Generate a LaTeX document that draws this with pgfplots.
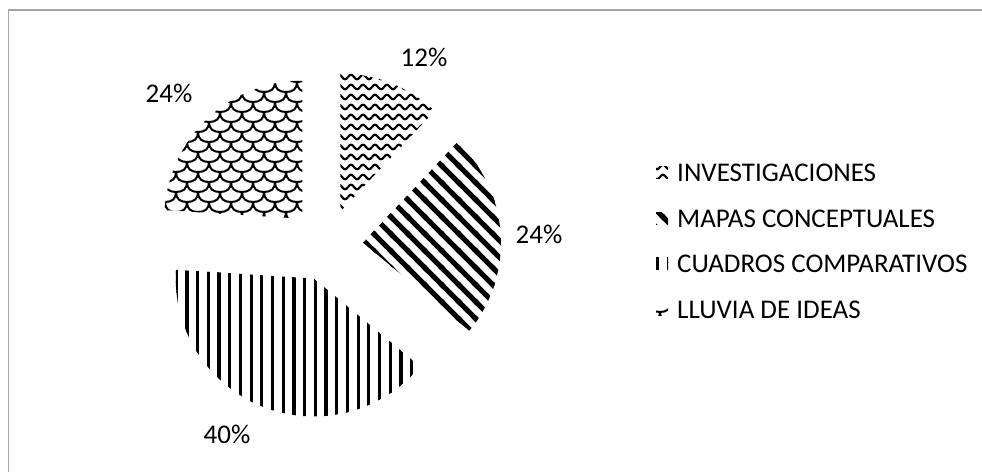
\documentclass[border=0pt]{standalone}
\usepackage{pgfplots}
\pgfplotsset{compat=1.18}
\usetikzlibrary{patterns}
\usepackage{fontspec}
\setmainfont{Carlito}

% pattern fills, sized like the reference
\pgfdeclarepatternformonly{vl}{\pgfpoint{-1bp}{-1bp}}{\pgfpoint{11.7bp}{11bp}}{\pgfpoint{10.7bp}{10bp}}{
  \pgfsetlinewidth{3.2bp}
  \pgfpathmoveto{\pgfpoint{5bp}{-1bp}}\pgfpathlineto{\pgfpoint{5bp}{11bp}}
  \pgfusepath{stroke}}
\pgfdeclarepatternformonly{nwl}{\pgfpoint{-2bp}{-2bp}}{\pgfpoint{19bp}{19bp}}{\pgfpoint{17bp}{17bp}}{
  \pgfsetlinewidth{5bp}
  \pgfpathmoveto{\pgfpoint{-1bp}{18bp}}\pgfpathlineto{\pgfpoint{18bp}{-1bp}}
  \pgfpathmoveto{\pgfpoint{-2bp}{2bp}}\pgfpathlineto{\pgfpoint{2bp}{-2bp}}
  \pgfpathmoveto{\pgfpoint{15bp}{19bp}}\pgfpathlineto{\pgfpoint{19bp}{15bp}}
  \pgfusepath{stroke}}
\pgfdeclarepatternformonly{wave}{\pgfpoint{-1bp}{-1bp}}{\pgfpoint{13bp}{11bp}}{\pgfpoint{12bp}{10bp}}{
  \pgfsetlinewidth{2.2bp}
  \pgfpathmoveto{\pgfpoint{0bp}{5bp}}
  \pgfpathcurveto{\pgfpoint{2bp}{8bp}}{\pgfpoint{4bp}{8bp}}{\pgfpoint{6bp}{5bp}}
  \pgfpathcurveto{\pgfpoint{8bp}{2bp}}{\pgfpoint{10bp}{2bp}}{\pgfpoint{12bp}{5bp}}
  \pgfusepath{stroke}}
\pgfdeclarepatternformonly{scales}{\pgfpoint{-12bp}{-1bp}}{\pgfpoint{23bp}{21bp}}{\pgfpoint{22bp}{20bp}}{
  \pgfsetlinewidth{2bp}
  \pgfpathmoveto{\pgfpoint{0bp}{20bp}}
  \pgfpathcurveto{\pgfpoint{0bp}{13bp}}{\pgfpoint{4bp}{10bp}}{\pgfpoint{11bp}{10bp}}
  \pgfpathcurveto{\pgfpoint{18bp}{10bp}}{\pgfpoint{22bp}{13bp}}{\pgfpoint{22bp}{20bp}}
  \pgfpathmoveto{\pgfpoint{-11bp}{10bp}}
  \pgfpathcurveto{\pgfpoint{-11bp}{3bp}}{\pgfpoint{-7bp}{0bp}}{\pgfpoint{0bp}{0bp}}
  \pgfpathcurveto{\pgfpoint{7bp}{0bp}}{\pgfpoint{11bp}{3bp}}{\pgfpoint{11bp}{10bp}}
  \pgfusepath{stroke}}

\begin{document}
\begin{tikzpicture}
\useasboundingbox (0,0) rectangle (982bp,472bp);
\begin{axis}[
    at={(0,0)}, anchor=south west,
    x=1bp, y=1bp,
    xmin=0, xmax=982, ymin=0, ymax=472,
    hide axis, clip=false,
  ]
  \pgfplotsextra{
    % frame (cut off at right and bottom, as in the reference)
    \draw[gray!70, line width=1.5bp] (axis cs:8.5,0) -- (axis cs:8.5,462) -- (axis cs:982,462);
    % exploded pie: value / pattern / label x / label y / legend y / name
    \xdef\angstart{90}
    \foreach \v/\p/\lx/\ly/\gy/\name in {
        12/wave/424/415/299/INVESTIGACIONES,
        24/nwl/539/238/253/MAPAS CONCEPTUALES,
        40/vl/227/38/208/CUADROS COMPARATIVOS,
        24/scales/169/379/162/LLUVIA DE IDEAS}{
      \pgfmathsetmacro\a{\angstart}
      \pgfmathsetmacro\b{\angstart-3.6*\v}
      \pgfmathsetmacro\m{(\a+\b)/2}
      \fill[pattern=\p] (axis cs:327,227) ++(\m:36bp) -- ++(\a:138bp)
        arc[start angle=\a, end angle=\b, radius=138bp] -- cycle;
      \node[font=\fontsize{27bp}{32bp}\selectfont] at (axis cs:\lx,\ly) {\v\%};
      \fill[pattern=\p] (axis cs:656,\gy-6) rectangle (axis cs:668,\gy+6);
      \node[anchor=west, font=\fontsize{27bp}{32bp}\selectfont, inner sep=0pt] at (axis cs:677,\gy) {\name};
      \xdef\angstart{\b}
    }
  }
\end{axis}
\end{tikzpicture}
\end{document}
